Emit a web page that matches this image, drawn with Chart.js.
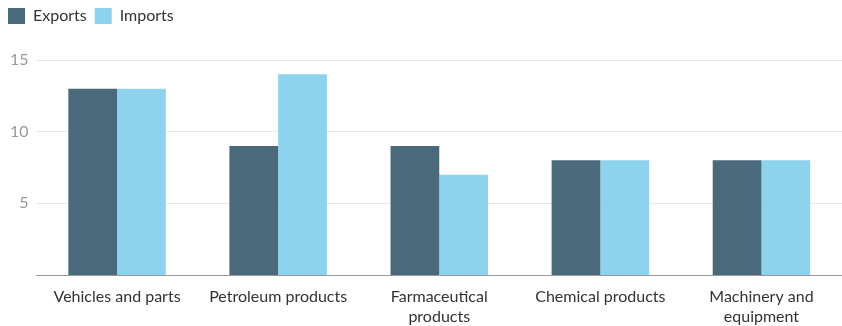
<!DOCTYPE html>
<html><head><meta charset="utf-8">
<script src="https://cdn.jsdelivr.net/npm/chart.js@4"></script>
<style>html,body{margin:0;padding:0;background:#fff}#wrap{width:842px;height:326px}</style>
</head><body><div id="wrap"><canvas id="c"></canvas></div>
<script>
const categories = [["Vehicles and parts"], ["Petroleum products"], ["Farmaceutical", "products"], ["Chemical products"], ["Machinery and", "equipment"]];
const exportsData = [13, 9, 9, 8, 8];
const importsData = [13, 14, 7, 8, 8];
const yTicks = [5, 10, 15];

const legendSpacing = {
  id: 'legendSpacing',
  beforeInit(chart) {
    const orig = chart.legend.fit;
    chart.legend.fit = function () { orig.call(this); this.height += 26; };
  }
};

new Chart(document.getElementById('c'), {
  type: 'bar',
  data: {
    labels: categories,
    datasets: [
      {label: 'Exports', data: exportsData, backgroundColor: '#4A6A7B', categoryPercentage: 0.605, barPercentage: 1},
      {label: 'Imports', data: importsData, backgroundColor: '#8ED3EE', categoryPercentage: 0.605, barPercentage: 1}
    ]
  },
  plugins: [legendSpacing],
  options: {
    responsive: true, maintainAspectRatio: false, animation: false,
    layout: {padding: {left: 0, right: -2.5, top: 0, bottom: 0}},
    plugins: {
      tooltip: {enabled: false},
      legend: {position: 'top', align: 'start',
        labels: {boxWidth: 17, boxHeight: 16, padding: 8, color: '#333', font: {family: 'Lato', size: 16}}}
    },
    scales: {
      x: {
        afterFit: (scale) => { scale.height = 51; },
        grid: {display: false, drawTicks: false},
        border: {color: '#999', width: 1},
        ticks: {color: '#333', font: {family: 'Lato', size: 16, lineHeight: 1.25}, padding: 12, maxRotation: 0, autoSkip: false}
      },
      y: {
        min: 0, max: 15,
        afterFit: (scale) => { scale.width = 36.5; },
        afterBuildTicks: (axis) => { axis.ticks = yTicks.map(v => ({value: v})); },
        grid: {color: '#e6e6e6', drawTicks: false},
        border: {display: false},
        ticks: {color: '#999', font: {family: 'Lato', size: 16}, padding: 8}
      }
    }
  }
});
</script></body></html>
